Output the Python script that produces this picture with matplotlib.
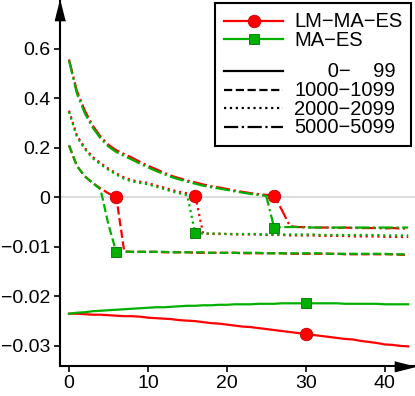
import numpy as np
import matplotlib
matplotlib.use('Agg')
import matplotlib.pyplot as plt
from matplotlib.lines import Line2D

plt.rcParams['font.family'] = ['Liberation Sans', 'DejaVu Sans']

gens = list(range(44))

# LM-MA-ES (red)
lm_0 = [-0.0235, -0.0235, -0.0236, -0.0237, -0.0237, -0.0238, -0.0239, -0.0240, -0.0240, -0.0241,
        -0.0243, -0.0244, -0.0245, -0.0246, -0.0248, -0.0249, -0.0250, -0.0252, -0.0254, -0.0255,
        -0.0257, -0.0259, -0.0261, -0.0262, -0.0264, -0.0266, -0.0268, -0.0270, -0.0272, -0.0274,
        -0.0276, -0.0278, -0.0280, -0.0282, -0.0284, -0.0286, -0.0287, -0.0290, -0.0292, -0.0294,
        -0.0297, -0.0298, -0.0300, -0.0301]
lm_1000 = [0.21, 0.127, 0.085, 0.058, 0.036, 0.016, 0.001, -0.0109, -0.0110, -0.0110,
           -0.0110, -0.0110, -0.0111, -0.0111, -0.0111, -0.0111, -0.0112, -0.0112, -0.0112, -0.0112,
           -0.0112, -0.0112, -0.0113, -0.0113, -0.0113, -0.0113, -0.0113, -0.0113, -0.0114, -0.0114,
           -0.0114, -0.0114, -0.0114, -0.0114, -0.0114, -0.0115, -0.0115, -0.0115, -0.0115, -0.0115,
           -0.0115, -0.0115, -0.0116, -0.0116]
lm_2000 = [0.35, 0.25, 0.2, 0.163, 0.138, 0.116, 0.097, 0.08, 0.069, 0.063,
           0.058, 0.048, 0.04, 0.03, 0.022, 0.016, 0.007, -0.0073, -0.0074, -0.0074,
           -0.0074, -0.0075, -0.0075, -0.0075, -0.0075, -0.0076, -0.0076, -0.0076, -0.0077, -0.0077,
           -0.0077, -0.0077, -0.0078, -0.0078, -0.0078, -0.0078, -0.0079, -0.0079, -0.0079, -0.0079,
           -0.0080, -0.0080, -0.0080, -0.0080]
lm_5000 = [0.557, 0.43, 0.35, 0.29, 0.245, 0.212, 0.19, 0.175, 0.16, 0.143,
           0.128, 0.114, 0.1, 0.087, 0.077, 0.068, 0.06, 0.052, 0.045, 0.04,
           0.034, 0.028, 0.022, 0.017, 0.013, 0.01, 0.007, -0.0026, -0.0058, -0.0060,
           -0.0060, -0.0061, -0.0061, -0.0061, -0.0062, -0.0061, -0.0062, -0.0062, -0.0062, -0.0062,
           -0.0063, -0.0062, -0.0063, -0.0063]

# MA-ES (green)
ma_0 = [-0.0235, -0.0233, -0.0232, -0.0230, -0.0229, -0.0228, -0.0227, -0.0226, -0.0225, -0.0224,
        -0.0223, -0.0222, -0.0222, -0.0221, -0.0220, -0.0219, -0.0219, -0.0218, -0.0218, -0.0217,
        -0.0217, -0.0216, -0.0216, -0.0216, -0.0215, -0.0215, -0.0215, -0.0214, -0.0214, -0.0214,
        -0.0214, -0.0214, -0.0214, -0.0214, -0.0214, -0.0215, -0.0215, -0.0215, -0.0215, -0.0215,
        -0.0216, -0.0216, -0.0216, -0.0216]
ma_1000 = [0.21, 0.127, 0.085, 0.058, 0.032, -0.0055, -0.0111, -0.0110, -0.0110, -0.0110,
           -0.0110, -0.0110, -0.0110, -0.0111, -0.0111, -0.0111, -0.0111, -0.0111, -0.0112, -0.0112,
           -0.0112, -0.0112, -0.0112, -0.0112, -0.0112, -0.0113, -0.0113, -0.0113, -0.0113, -0.0113,
           -0.0113, -0.0113, -0.0113, -0.0114, -0.0114, -0.0114, -0.0114, -0.0114, -0.0114, -0.0114,
           -0.0114, -0.0115, -0.0115, -0.0115]
ma_2000 = [0.345, 0.245, 0.195, 0.158, 0.133, 0.111, 0.092, 0.075, 0.064, 0.058,
           0.053, 0.043, 0.034, 0.024, 0.016, 0.008, -0.0073, -0.0073, -0.0073, -0.0073,
           -0.0074, -0.0074, -0.0074, -0.0074, -0.0074, -0.0075, -0.0075, -0.0075, -0.0075, -0.0075,
           -0.0075, -0.0075, -0.0076, -0.0076, -0.0076, -0.0076, -0.0076, -0.0076, -0.0076, -0.0076,
           -0.0077, -0.0077, -0.0077, -0.0077]
ma_5000 = [0.553, 0.42, 0.34, 0.282, 0.238, 0.205, 0.183, 0.167, 0.152, 0.136,
           0.121, 0.107, 0.094, 0.082, 0.072, 0.063, 0.055, 0.047, 0.041, 0.036,
           0.03, 0.024, 0.019, 0.014, 0.01, 0.006, -0.0061, -0.0060, -0.0060, -0.0060,
           -0.0061, -0.0061, -0.0061, -0.0061, -0.0061, -0.0061, -0.0061, -0.0061, -0.0061, -0.0061,
           -0.0061, -0.0061, -0.0061, -0.0061]

ranges = ['      0\u2212    99', '1000\u22121099', '2000\u22122099', '5000\u22125099']
mark_at = [30, 6, 16, 26]
styles = ['-', '--', ':', '-.']
algos = ['LM\u2212MA\u2212ES', 'MA\u2212ES']

red = '#ff0000'
green = '#00b000'


def fwd(y):
    y = np.asarray(y, dtype=float)
    return np.where(y < 0, y, y / 20.0)


def inv(y):
    y = np.asarray(y, dtype=float)
    return np.where(y < 0, y, y * 20.0)


fig = plt.figure(figsize=(4.15, 3.96), dpi=100)
ax = fig.add_axes([60 / 415, (396 - 365.7) / 396, (414.5 - 60) / 415, 1 - 30.3 / 396])
ax.set_yscale('function', functions=(fwd, inv))

ax.axhline(0, color='#dddddd', lw=1.5, zorder=0)

for data, ls, m in zip([lm_0, lm_1000, lm_2000, lm_5000], styles, mark_at):
    ax.plot(gens, data, ls=ls, color=red, lw=1.6, marker='o', ms=9, markevery=[m],
            mec='#c00000', mew=0.6, zorder=3)
for data, ls, m in zip([ma_0, ma_1000, ma_2000, ma_5000], styles, mark_at):
    ax.plot(gens, data, ls=ls, color=green, lw=1.6, marker='s', ms=7.5, markevery=[m],
            mec='#007000', mew=0.6, zorder=4)

ax.set_xlim(-1.14, 43.8)
ax.set_ylim(-0.034, 0.797)
ax.set_xticks([0, 10, 20, 30, 40])
ax.set_yticks([-0.03, -0.02, -0.01, 0, 0.2, 0.4, 0.6])
ax.set_yticklabels(['\u22120.03', '\u22120.02', '\u22120.01', '0', '0.2', '0.4', '0.6'])
ax.tick_params(labelsize=14, length=4, width=1.2, pad=3)

for s in ['top', 'right']:
    ax.spines[s].set_visible(False)
for s in ['left', 'bottom']:
    ax.spines[s].set_linewidth(1.5)

# arrow heads on the axes
ax.plot(0, 1, marker=[(0, 0), (-0.25, -1), (0.25, -1)], ms=29, color='k',
        transform=ax.transAxes, clip_on=False, zorder=6)
ax.plot(1, 0, marker=[(0, 0), (-1, -0.25), (-1, 0.25)], ms=29, color='k',
        transform=ax.transAxes, clip_on=False, zorder=6)

handles = [Line2D([], [], color=red, lw=1.6, marker='o', ms=9, mec='#c00000', mew=0.6),
           Line2D([], [], color=green, lw=1.6, marker='s', ms=7.5, mec='#007000', mew=0.6),
           Line2D([], [], color='none')]
labels = algos + [' ']
for ls, lab in zip(styles, ranges):
    handles.append(Line2D([], [], color='k', lw=1.6, ls=ls))
    labels.append(lab)

leg = ax.legend(handles, labels, loc='upper right', bbox_to_anchor=(1.0, 1.0),
                bbox_transform=ax.transAxes, fontsize=14.5, handlelength=2.93,
                handleheight=0.44, handletextpad=0.55, labelspacing=-0.02, borderpad=0.45,
                borderaxespad=0.15, numpoints=1, fancybox=False, framealpha=1, edgecolor='k')
leg.get_frame().set_linewidth(1.5)
leg.get_texts()[2].set_fontsize(3)

fig.savefig('out.png', dpi=100)
